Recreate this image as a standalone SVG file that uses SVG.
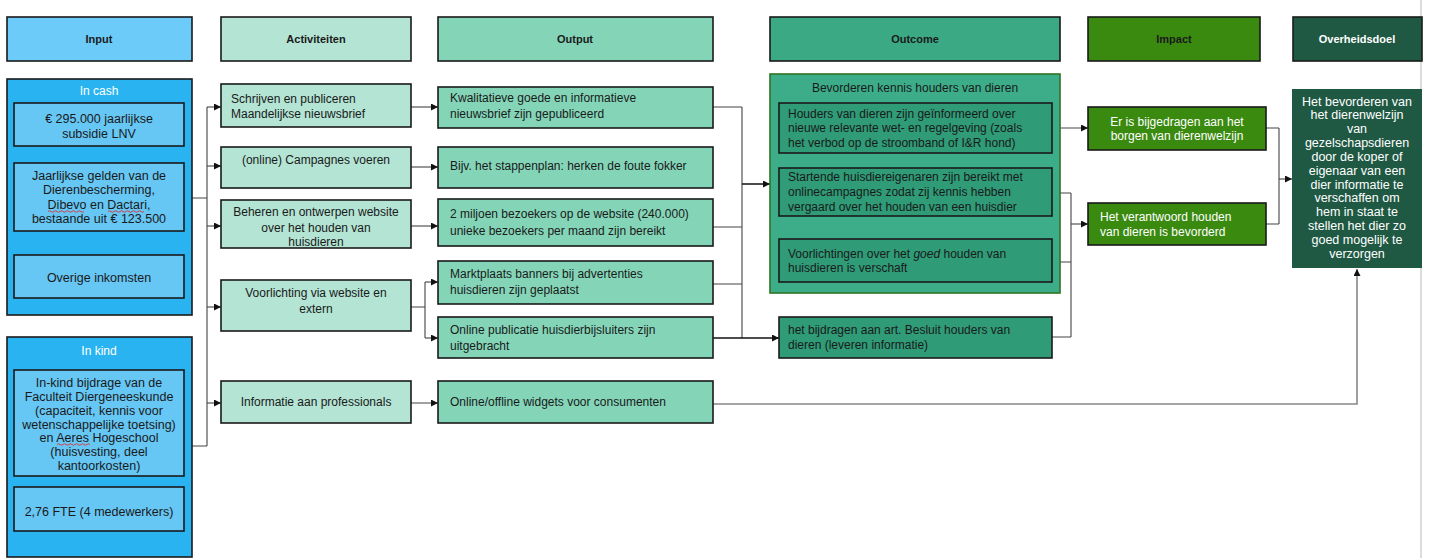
<svg xmlns="http://www.w3.org/2000/svg" width="1432" height="558" viewBox="0 0 1432 558">
<defs>
<marker id="ah" viewBox="0 0 10 10" refX="10" refY="5" markerWidth="8" markerHeight="7" markerUnits="userSpaceOnUse" orient="auto">
<path d="M0,0 L10,5 L0,10 z" fill="#111"/>
</marker>
<style>
text{font-family:"Liberation Sans",Arial,sans-serif;font-size:12px;fill:#1a1a1a}
.h{font-weight:bold;font-size:11px;text-anchor:middle}
.c{text-anchor:middle}
.w{fill:#ffffff}
.big{font-size:12.5px}
.box{stroke:#1a1a1a;stroke-width:1.6}
.inp{fill:#6dcbfa}
.cash{fill:#29b3f0}
.inb{fill:#66c6f4}
.act{fill:#b3e4d4}
.out{fill:#84d5b8}
.oc{fill:#3aa984}
.ocb{fill:#2f9b77}
.imp{fill:#3a8a10}
.ovh{fill:#1f5943}
.ln{fill:none;stroke:#444;stroke-width:1.1}
.lb{fill:none;stroke:#111;stroke-width:1.5}
.lg{fill:none;stroke:#888;stroke-width:1.6}
.sq{fill:none;stroke:#e03030;stroke-width:0.9}
</style>
</defs>
<rect width="1432" height="558" fill="#ffffff"/>
<line x1="1421" y1="0" x2="1421" y2="558" stroke="#d0d0d0" stroke-width="1.5"/>

<g id="headers">
<g id="h-input"><rect class="box inp" x="7" y="17" width="185" height="44"/><text class="h" x="99" y="43">Input</text></g>
<g id="h-activiteiten"><rect class="box act" x="221" y="17" width="190" height="44"/><text class="h" x="316" y="43">Activiteiten</text></g>
<g id="h-output"><rect class="box out" x="438" y="17" width="275" height="44"/><text class="h" x="575" y="43">Output</text></g>
<g id="h-outcome"><rect class="box oc" x="770" y="17" width="290" height="44"/><text class="h" x="915" y="43">Outcome</text></g>
<g id="h-impact"><rect class="box imp" x="1088" y="17" width="172" height="44"/><text class="h" x="1174" y="43">Impact</text></g>
<g id="h-overheidsdoel"><rect class="box ovh" x="1293" y="17" width="129" height="44"/><text class="h w" x="1357" y="43">Overheidsdoel</text></g>
</g>

<g id="connectors">
<path class="ln" d="M192,198 H207 M192,446 H207 M207,107 V446"/>
<path class="ln" d="M207,107 H221" marker-end="url(#ah)"/>
<path class="ln" d="M207,166 H221" marker-end="url(#ah)"/>
<path class="ln" d="M207,226 H221" marker-end="url(#ah)"/>
<path class="ln" d="M207,307 H221" marker-end="url(#ah)"/>
<path class="ln" d="M207,403 H221" marker-end="url(#ah)"/>
<path class="ln" d="M411,107 H438" marker-end="url(#ah)"/>
<path class="ln" d="M411,167 H438" marker-end="url(#ah)"/>
<path class="ln" d="M411,226 H438" marker-end="url(#ah)"/>
<path class="ln" d="M411,307 H425 M425,282 V338"/>
<path class="ln" d="M425,282 H438" marker-end="url(#ah)"/>
<path class="ln" d="M425,338 H438" marker-end="url(#ah)"/>
<path class="lg" d="M411,403 H438" marker-end="url(#ah)"/>
<path class="ln" d="M713,107 H742 M713,227 H742 M713,284 H742 M742,107 V338"/>
<path class="lb" d="M713,338 H742"/>
<path class="lb" d="M742,184 H770" marker-end="url(#ah)"/>
<path class="lb" d="M742,338 H779" marker-end="url(#ah)"/>
<path class="ln" d="M1052,128 H1088" marker-end="url(#ah)"/>
<path class="ln" d="M1052,193 H1071 M1052,262 H1071 M1052,337 H1071 M1071,193 V337"/>
<path class="ln" d="M1071,224 H1088" marker-end="url(#ah)"/>
<path class="ln" d="M1266,128 H1279 M1266,224 H1279 M1279,128 V224"/>
<path class="ln" d="M1279,179 H1292" marker-end="url(#ah)"/>
<path class="lg" d="M713,404 H1357 V269" marker-end="url(#ah)"/>
</g>

<g id="in-cash">
<rect class="box cash" x="7" y="79" width="185" height="236"/>
<text class="c w" x="99" y="95">In cash</text>
</g>
<g id="cash-lnv"><rect class="box inb" x="14" y="103" width="170" height="43"/>
<text class="c big" x="99" y="122.5">€ 295.000 jaarlijkse</text><text class="c big" x="99" y="137.5">subsidie LNV</text></g>
<g id="cash-gelden"><rect class="box inb" x="14" y="163" width="170" height="68"/>
<text class="c big" x="99" y="179.5">Jaarlijkse gelden van de</text><text class="c big" x="99" y="194">Dierenbescherming,</text><text class="c big" x="99" y="208.5">Dibevo en Dactari,</text><text class="c big" x="99" y="223">bestaande uit € 123.500</text>
<path class="sq" d="M48,211.5 q1.5,-1.5 3,0 t3,0 t3,0 t3,0 t3,0 t3,0 t3,0 t3,0 t3,0 t3,0 t3,0 t3,0 M108,211.5 q1.5,-1.5 3,0 t3,0 t3,0 t3,0 t3,0 t3,0 t3,0 t3,0 t3,0 t3,0 t3,0 t3,0"/></g>
<g id="cash-overig"><rect class="box inb" x="14" y="255" width="170" height="43"/>
<text class="c big" x="99" y="281.5">Overige inkomsten</text></g>

<g id="in-kind">
<rect class="box cash" x="7" y="337" width="185" height="220"/>
<text class="c w" x="99" y="354.5">In kind</text>
</g>
<g id="kind-bijdrage"><rect class="box inb" x="14" y="370" width="170" height="106"/>
<text class="c big" x="99" y="386.5">In-kind bijdrage van de</text><text class="c big" x="99" y="400.5">Faculteit Diergeneeskunde</text><text class="c big" x="99" y="414.5">(capaciteit, kennis voor</text><text class="c big" x="99" y="428.5">wetenschappelijke toetsing)</text><text class="c big" x="99" y="441.5">en Aeres Hogeschool</text><text class="c big" x="99" y="456">(huisvesting, deel</text><text class="c big" x="99" y="469.5">kantoorkosten)</text>
<path class="sq" d="M57,444.5 q1.5,-1.5 3,0 t3,0 t3,0 t3,0 t3,0 t3,0 t3,0 t3,0 t3,0 t3,0 t3,0"/></g>
<g id="kind-fte"><rect class="box inb" x="14" y="487" width="170" height="44"/>
<text class="c big" x="99" y="516">2,76 FTE (4 medewerkers)</text></g>

<g id="act-1"><rect class="box act" x="221" y="84" width="190" height="43"/>
<text x="231" y="103">Schrijven en publiceren</text><text x="231" y="118">Maandelijkse nieuwsbrief</text></g>
<g id="act-2"><rect class="box act" x="221" y="147" width="190" height="41"/>
<text class="c" x="316" y="164">(online) Campagnes voeren</text></g>
<g id="act-3"><rect class="box act" x="221" y="200" width="190" height="48"/>
<text class="c" x="316" y="216">Beheren en ontwerpen website</text><text class="c" x="316" y="232">over het houden van</text><text class="c" x="316" y="246">huisdieren</text></g>
<g id="act-4"><rect class="box act" x="221" y="280" width="190" height="51"/>
<text class="c" x="316" y="297">Voorlichting via website en</text><text class="c" x="316" y="313">extern</text></g>
<g id="act-5"><rect class="box act" x="221" y="381" width="190" height="42"/>
<text class="c" x="316" y="406">Informatie aan professionals</text></g>

<g id="out-1"><rect class="box out" x="438" y="87" width="275" height="41"/>
<text x="450" y="102">Kwalitatieve goede en informatieve</text><text x="450" y="118">nieuwsbrief zijn gepubliceerd</text></g>
<g id="out-2"><rect class="box out" x="438" y="147" width="275" height="41"/>
<text x="450" y="170">Bijv. het stappenplan: herken de foute fokker</text></g>
<g id="out-3"><rect class="box out" x="438" y="199" width="275" height="47"/>
<text x="450" y="218">2 miljoen bezoekers op de website (240.000)</text><text x="450" y="235">unieke bezoekers per maand zijn bereikt</text></g>
<g id="out-4"><rect class="box out" x="438" y="261" width="275" height="43"/>
<text x="450" y="278">Marktplaats banners bij advertenties</text><text x="450" y="294">huisdieren zijn geplaatst</text></g>
<g id="out-5"><rect class="box out" x="438" y="317" width="275" height="41"/>
<text x="450" y="334">Online publicatie huisdierbijsluiters zijn</text><text x="450" y="350">uitgebracht</text></g>
<g id="out-6"><rect class="box out" x="438" y="381" width="275" height="42"/>
<text x="450" y="406">Online/offline widgets voor consumenten</text></g>

<g id="outcome-kennis">
<rect x="770" y="74" width="290" height="219" fill="#3cad88" stroke="#2e7424" stroke-width="1.6"/>
<text class="c" x="915" y="92">Bevorderen kennis houders van dieren</text>
</g>
<g id="oc-1"><rect class="box ocb" x="779" y="103" width="273" height="50"/>
<text x="788" y="118">Houders van dieren zijn geïnformeerd over</text><text x="788" y="132">nieuwe relevante wet- en regelgeving (zoals</text><text x="788" y="147">het verbod op de stroomband of I&amp;R hond)</text></g>
<g id="oc-2"><rect class="box ocb" x="779" y="168" width="273" height="48"/>
<text x="788" y="181">Startende huisdiereigenaren zijn bereikt met</text><text x="788" y="196">onlinecampagnes zodat zij kennis hebben</text><text x="788" y="211">vergaard over het houden van een huisdier</text></g>
<g id="oc-3"><rect class="box ocb" x="779" y="239" width="273" height="43"/>
<text x="788" y="258">Voorlichtingen over het <tspan font-style="italic">goed</tspan> houden van</text><text x="788" y="272">huisdieren is verschaft</text></g>
<g id="oc-4"><rect class="box ocb" x="779" y="317" width="273" height="41"/>
<text x="788" y="334">het bijdragen aan art. Besluit houders van</text><text x="788" y="349">dieren (leveren informatie)</text></g>

<g id="imp-1"><rect class="box imp" x="1088" y="107" width="178" height="43"/>
<text class="c w" x="1177" y="126">Er is bijgedragen aan het</text><text class="c w" x="1177" y="140">borgen van dierenwelzijn</text></g>
<g id="imp-2"><rect class="box imp" x="1088" y="203" width="178" height="42"/>
<text class="w" x="1100" y="221">Het verantwoord houden</text><text class="w" x="1100" y="236">van dieren is bevorderd</text></g>

<g id="overheidsdoel">
<rect class="ovh" x="1292" y="89" width="130" height="179"/>
<text class="c w big" x="1357" y="105.5">Het bevorderen van</text>
<text class="c w big" x="1357" y="119.3">het dierenwelzijn</text>
<text class="c w big" x="1357" y="133.2">van</text>
<text class="c w big" x="1357" y="147">gezelschapsdieren</text>
<text class="c w big" x="1357" y="160.9">door de koper of</text>
<text class="c w big" x="1357" y="174.7">eigenaar van een</text>
<text class="c w big" x="1357" y="188.6">dier informatie te</text>
<text class="c w big" x="1357" y="202.4">verschaffen om</text>
<text class="c w big" x="1357" y="216.3">hem in staat te</text>
<text class="c w big" x="1357" y="230.1">stellen het dier zo</text>
<text class="c w big" x="1357" y="244">goed mogelijk te</text>
<text class="c w big" x="1357" y="257.8">verzorgen</text>
</g>
</svg>
